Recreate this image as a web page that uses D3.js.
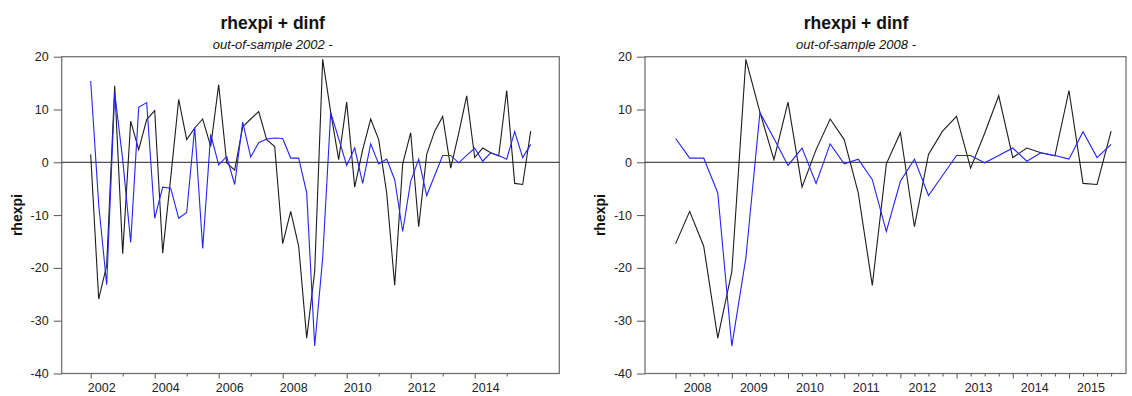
<!DOCTYPE html>
<html>
<head>
<meta charset="utf-8">
<script src="https://cdn.jsdelivr.net/npm/d3@7"></script>
<style>
  html, body { margin: 0; padding: 0; background: #fff; }
  svg { display: block; font-family: "Liberation Sans", Arial, Helvetica, sans-serif; }
</style>
</head>
<body>
<svg id="chart" width="1132" height="396"></svg>
<script>
// Quarterly series, 2002Q1 .. 2015Q4
const startYear = 2002;
const actual = [
  1.5, -25.9, -19.5, 14.5, -17.3, 7.8, 2.4, 8.1,
  9.8, -17.2, -3.0, 11.9, 4.3, 6.5, 8.2, 3.0,
  14.7, -0.1, -1.5, 6.7, 8.2, 9.6, 4.3, 3.0,
  -15.4, -9.3, -15.9, -33.3, -20.7, 19.5, 9.5, 0.5,
  11.4, -4.7, 2.4, 8.2, 4.3, -5.8, -23.3, -0.3,
  5.6, -12.2, 1.5, 5.9, 8.7, -1.1, 5.5, 12.6,
  0.9, 2.7, 1.8, 1.2, 13.6, -4.0, -4.2, 5.9
];
const forecast = [
  15.4, -8.0, -23.2, 13.2, 0.5, -15.2, 10.4, 11.3,
  -10.6, -4.7, -4.9, -10.6, -9.5, 6.6, -16.3, 5.3,
  -0.5, 1.1, -4.2, 7.6, 1.0, 3.7, 4.4, 4.6,
  4.5, 0.8, 0.8, -5.8, -34.8, -18.1, 9.4, 4.5,
  -0.6, 2.7, -4.0, 3.5, -0.3, 0.6, -3.3, -13.1,
  -3.6, 0.6, -6.3, -2.5, 1.3, 1.3, -0.1, 1.3,
  2.7, 0.2, 1.8, 1.3, 0.6, 5.8, 0.9, 3.4
];
const yTicks = [20, 10, 0, -10, -20, -30, -40];
const leftYearLabels = [2002, 2004, 2006, 2008, 2010, 2012, 2014];
const rightYearLabels = [2008, 2009, 2010, 2011, 2012, 2013, 2014, 2015];

const titleText = "rhexpi + dinf";
const yLabelText = "rhexpi";

const rows = actual.map((v, i) => ({
  t: startYear + i / 4,
  actual: v,
  forecast: forecast[i]
}));

const svg = d3.select("#chart");

function panel(opts) {
  const { left, right, top, bottom, xDomain, fromYear, subtitle } = opts;
  const g = svg.append("g");
  const x = d3.scaleLinear().domain(xDomain).range([left, right]);
  const y = d3.scaleLinear().domain([-40, 20]).range([bottom, top]);
  const data = rows.filter(d => d.t >= fromYear - 1e-9);

  // frame
  g.append("rect")
    .attr("x", left).attr("y", top)
    .attr("width", right - left).attr("height", bottom - top)
    .attr("fill", "none").attr("stroke", "#6a6a6a").attr("stroke-width", 1.2);

  // y axis
  const yAxis = d3.axisLeft(y).tickValues(yTicks).tickSize(8).tickPadding(5)
    .tickFormat(d3.format("d"));
  const ya = g.append("g").attr("transform", `translate(${left},0)`).call(yAxis);
  ya.select(".domain").remove();
  ya.selectAll("line").attr("stroke", "#555");
  ya.selectAll("text").attr("font-size", 12.5).attr("fill", "#222")
    .text(d => d < 0 ? "-" + Math.abs(d) : d);

  // x axis ticks
  if (opts.quarterly) {
    const minorVals = d3.range(fromYear, 2016, 0.25).filter(v => Math.abs(v - Math.round(v)) > 1e-6);
    const majorVals = d3.range(fromYear, 2016, 1);
    const minorAxis = d3.axisBottom(x).tickValues(minorVals).tickSize(3).tickFormat("");
    const majorAxis = d3.axisBottom(x).tickValues(majorVals).tickSize(5).tickFormat("");
    [minorAxis, majorAxis].forEach(ax => {
      const a = g.append("g").attr("transform", `translate(0,${bottom})`).call(ax);
      a.select(".domain").remove();
      a.selectAll("line").attr("stroke", "#555");
    });
    g.append("g").selectAll("text").data(opts.labels).join("text")
      .attr("x", d => x(d) + 22).attr("y", bottom + 18)
      .attr("text-anchor", "middle").attr("font-size", 12.5).attr("fill", "#222")
      .text(d => d);
  } else {
    const allYears = d3.range(fromYear, 2016, 1);
    const minorAxis = d3.axisBottom(x).tickValues(allYears.filter(v => !opts.labels.includes(v)))
      .tickSize(3).tickFormat("");
    const majorAxis = d3.axisBottom(x).tickValues(opts.labels).tickSize(5).tickFormat("");
    [minorAxis, majorAxis].forEach(ax => {
      const a = g.append("g").attr("transform", `translate(0,${bottom})`).call(ax);
      a.select(".domain").remove();
      a.selectAll("line").attr("stroke", "#555");
    });
    g.append("g").selectAll("text").data(opts.labels).join("text")
      .attr("x", d => x(d) + 11).attr("y", bottom + 18)
      .attr("text-anchor", "middle").attr("font-size", 12.5).attr("fill", "#222")
      .text(d => d);
  }

  // zero line
  g.append("line")
    .attr("x1", left).attr("x2", right)
    .attr("y1", y(0)).attr("y2", y(0))
    .attr("stroke", "#222").attr("stroke-width", 1);

  const line = key => d3.line().x(d => x(d.t)).y(d => y(d[key]));

  g.append("path").datum(data)
    .attr("d", line("actual"))
    .attr("fill", "none").attr("stroke", "#1c1c1c").attr("stroke-width", 1.1);
  g.append("path").datum(data)
    .attr("d", line("forecast"))
    .attr("fill", "none").attr("stroke", "#2323ff").attr("stroke-width", 1.1);

  // titles
  g.append("text").attr("x", left + 211).attr("y", 29)
    .attr("text-anchor", "middle").attr("font-size", 17.5).attr("font-weight", "bold")
    .attr("fill", "#111").text(titleText);
  g.append("text").attr("x", left + 211).attr("y", 49)
    .attr("text-anchor", "middle").attr("font-size", 13).attr("font-style", "italic")
    .attr("fill", "#111").text(subtitle);

  // y label
  g.append("text")
    .attr("transform", `translate(${left - 40},${(top + bottom) / 2}) rotate(-90)`)
    .attr("text-anchor", "middle").attr("font-size", 14).attr("font-weight", "bold")
    .attr("fill", "#111").text(yLabelText);
}

panel({
  left: 61.7, right: 559.3, top: 56.7, bottom: 373.5,
  xDomain: [2001.094, 2016.644],
  fromYear: 2002, labels: leftYearLabels, quarterly: false,
  subtitle: "out-of-sample 2002 -"
});

panel({
  left: 645, right: 1126, top: 56.7, bottom: 373.5,
  xDomain: [2007.455, 2016.015],
  fromYear: 2008, labels: rightYearLabels, quarterly: true,
  subtitle: "out-of-sample 2008 -"
});
</script>
</body>
</html>
